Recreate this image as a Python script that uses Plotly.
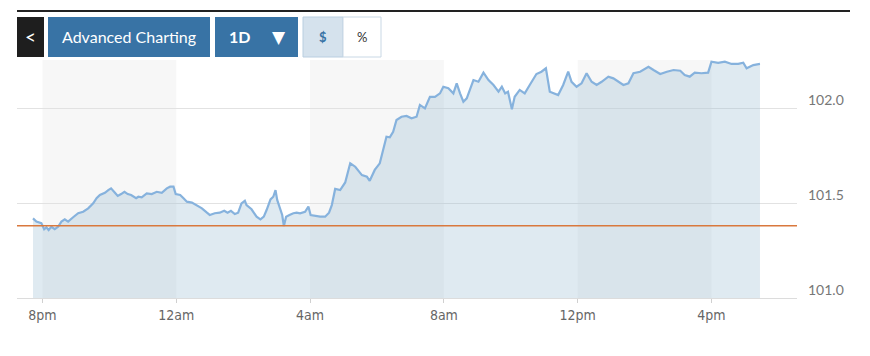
import datetime as dt
import plotly.graph_objects as go

# ---------------- data ----------------
times = ["19:43","19:49","19:58","20:03","20:07","20:11","20:16","20:22","20:28","20:34",
         "20:40","20:46","20:55","21:04","21:13","21:22","21:31","21:37","21:43","21:52",
         "21:58","22:03","22:10","22:15","22:21","22:27","22:33","22:39","22:48","22:52",
         "22:58","23:07","23:16","23:25","23:34","23:43","23:49","23:55","23:59","00:07",
         "00:13","00:19","00:28","00:37","00:46","00:55","01:00","01:09","01:18","01:26",
         "01:32","01:38","01:45","01:51","01:57","02:03","02:06","02:15","02:24","02:31",
         "02:37","02:42","02:49","02:54","02:58","03:01","03:06","03:10","03:13","03:17",
         "03:23","03:30","03:36","03:42","03:51","03:57","04:01","04:09","04:18","04:27",
         "04:34","04:39","04:45","04:54","05:03","05:12","05:21","05:33","05:42","05:47",
         "05:56","06:05","06:14","06:17","06:23","06:29","06:35","06:44","06:53","07:02",
         "07:11","07:17","07:26","07:35","07:44","07:53","07:59","08:08","08:17","08:23",
         "08:29","08:35","08:41","08:53","09:02","09:11","09:20","09:29","09:38","09:44",
         "09:50","09:55","10:02","10:07","10:16","10:25","10:34","10:40","10:46","10:55",
         "11:03","11:10","11:19","11:25","11:34","11:43","11:49","11:58","12:07","12:16",
         "12:25","12:34","12:43","12:55","13:04","13:13","13:22","13:31","13:40","13:52",
         "14:07","14:16","14:28","14:40","14:52","15:04","15:12","15:21","15:30","15:42",
         "15:54","16:00","16:12","16:24","16:36","16:48","16:57","17:03","17:15","17:27"]
prices = [101.419,101.402,101.394,101.362,101.372,101.358,101.375,101.362,101.375,101.402,
          101.414,101.402,101.425,101.446,101.454,101.472,101.498,101.525,101.542,101.554,
          101.568,101.577,101.554,101.537,101.547,101.559,101.547,101.542,101.525,101.533,
          101.530,101.551,101.547,101.559,101.554,101.577,101.586,101.586,101.547,101.542,
          101.525,101.507,101.502,101.489,101.472,101.449,101.437,101.446,101.449,101.459,
          101.449,101.459,101.442,101.449,101.498,101.512,101.489,101.467,101.428,101.414,
          101.428,101.463,101.519,101.533,101.568,101.516,101.472,101.437,101.379,101.428,
          101.437,101.446,101.449,101.446,101.454,101.481,101.437,101.432,101.428,101.428,
          101.449,101.489,101.574,101.568,101.608,101.709,101.691,101.647,101.638,101.617,
          101.674,101.709,101.814,101.849,101.846,101.875,101.937,101.954,101.958,101.946,
          101.954,102.016,101.998,102.059,102.059,102.077,102.112,102.104,102.077,102.130,
          102.077,102.033,102.051,102.147,102.138,102.186,102.147,102.121,102.086,102.112,
          102.077,102.086,101.993,102.059,102.095,102.077,102.121,102.147,102.179,102.191,
          102.209,102.086,102.077,102.068,102.121,102.191,102.138,102.112,102.130,102.183,
          102.138,102.121,102.138,102.165,102.156,102.138,102.121,102.130,102.183,102.191,
          102.217,102.200,102.179,102.191,102.200,102.196,102.174,102.165,102.186,102.183,
          102.186,102.244,102.238,102.244,102.232,102.232,102.238,102.209,102.226,102.232]
prev_close = 101.38
tick_times = ["20:00", "00:00", "04:00", "08:00", "12:00", "16:00"]
tick_labels = ["8pm", "12am", "4am", "8am", "12pm", "4pm"]
y_ticks = [101.0, 101.5, 102.0]

DAY1 = dt.date(2024, 5, 1)
DAY2 = dt.date(2024, 5, 2)


def to_dt(hhmm):
    h, m = map(int, hhmm.split(":"))
    d = DAY1 if h >= 19 else DAY2
    return dt.datetime(d.year, d.month, d.day, h, m)


xs = [to_dt(t) for t in times]
tick_x = [to_dt(t) for t in tick_times]

# ---------------- layout geometry ----------------
OFF = 8                      # default page margin of the html body
W, H = 870 - OFF, 356 - OFF  # figure size that fits in the window
# plot box in window pixels
PL, PR, PT, PB = 17, 797, 60, 298


def px(x):
    return (x - PL) / (PR - PL)


def py(y):
    return (PB - y) / (PB - PT)


x_lo = dt.datetime(2024, 5, 1, 19, 14, 18)
x_hi = dt.datetime(2024, 5, 2, 18, 33, 24)

BLUE = "#3873a5"
fig = go.Figure()

fig.add_trace(go.Scatter(
    x=xs, y=prices, mode="lines",
    line=dict(color="#86b2dd", width=2.2),
    fill="tozeroy", fillcolor="rgba(150,185,210,0.30)",
    hoverinfo="skip", showlegend=False,
))

shapes = []
# alternating grey bands (8pm-12am, 4am-8am, 12pm-4pm)
for a, b in [(tick_x[0], tick_x[1]), (tick_x[2], tick_x[3]), (tick_x[4], tick_x[5])]:
    shapes.append(dict(type="rect", xref="x", yref="paper", x0=a, x1=b, y0=0, y1=1,
                       fillcolor="#f7f7f7", line=dict(width=0), layer="below"))
# previous close line
shapes.append(dict(type="line", xref="paper", yref="y", x0=0, x1=1,
                   y0=prev_close, y1=prev_close,
                   line=dict(color="#d9783d", width=1.5), layer="above"))
# top rule
shapes.append(dict(type="line", xref="paper", yref="paper", x0=px(17), x1=px(850),
                   y0=py(11), y1=py(11), line=dict(color="#222222", width=2)))
# buttons
buttons = [
    (17, 44, "#1e1e1e", None),
    (48, 210, BLUE, None),
    (215, 298, BLUE, None),
    (303, 343, "#d5e2ed", "#b9cee0"),
    (343, 381, "#ffffff", "#c9d8e5"),
]
for x0, x1, fc, lc in buttons:
    shapes.append(dict(type="rect", xref="paper", yref="paper",
                       x0=px(x0), x1=px(x1), y0=py(57), y1=py(17),
                       fillcolor=fc,
                       line=dict(color=lc if lc else fc, width=1 if lc else 0)))

annotations = []


def label(text, x, y, size, color, family="Lato", weight="normal"):
    annotations.append(dict(text=text, x=px(x), y=py(y), xref="paper", yref="paper",
                            xanchor="center", yanchor="middle", showarrow=False,
                            font=dict(size=size, color=color, family=family, weight=weight)))


label("<", 30.5, 37, 19, "#ffffff")
label("Advanced Charting", 129, 37, 16, "#ffffff")
label("1D", 239, 37, 16, "#ffffff", weight="bold")
label("▼", 279, 37, 17, "#ffffff", family="DejaVu Sans")
label("$", 323, 37, 13, BLUE, weight="bold")
label("%", 362, 37, 13, "#333333")

fig.update_layout(
    width=W, height=H,
    margin=dict(l=PL - OFF, r=W - (PR - OFF), t=PT - OFF, b=H - (PB - OFF), pad=0),
    paper_bgcolor="#ffffff", plot_bgcolor="#ffffff",
    shapes=shapes, annotations=annotations,
    showlegend=False,
    xaxis=dict(
        type="date", range=[x_lo, x_hi],
        tickmode="array", tickvals=tick_x, ticktext=tick_labels,
        showgrid=False, zeroline=False,
        showline=True, linecolor="#dcdcdc", linewidth=1,
        ticks="outside", ticklen=4, tickcolor="#d0d0d0",
        tickfont=dict(family="Liberation Sans Narrow, DejaVu Sans Condensed, sans-serif",
                      size=14, color="#666666"),
        fixedrange=True,
    ),
    yaxis=dict(
        side="right", range=[101.0, 101.0 + (PB - PT) / 190],
        tickmode="array", tickvals=y_ticks, ticktext=[f"{v:.1f}" for v in y_ticks],
        showgrid=True, gridcolor="#e2e2e2", gridwidth=1, zeroline=False,
        ticks="", ticklabelposition="outside", ticklabelstandoff=10,
        ticklabelshift=-8,
        tickfont=dict(family="Lato", size=14, color="#777777"),
        fixedrange=True,
    ),
)

fig.write_html("out.html")
